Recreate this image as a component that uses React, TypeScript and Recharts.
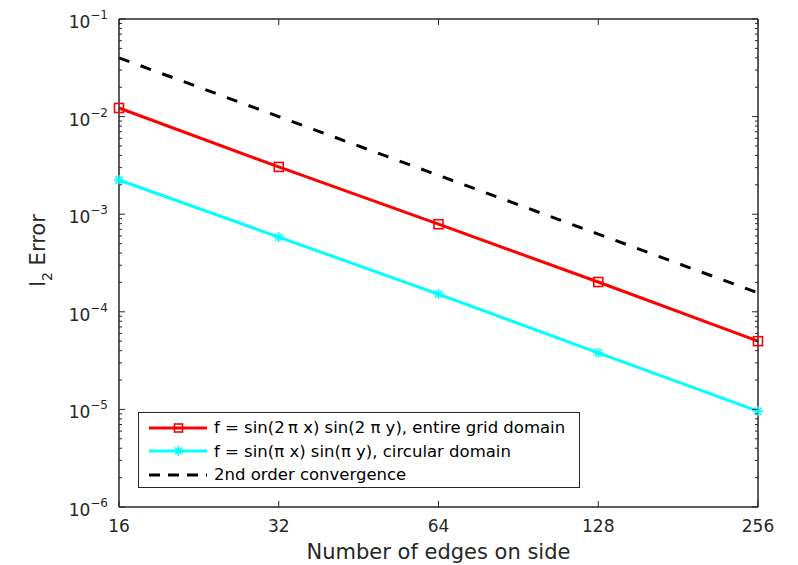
import React from 'react';
import { LineChart, Line, XAxis, YAxis, Legend, ReferenceArea } from 'recharts';

const edges = [16, 32, 64, 128, 256];
const errEntire = [0.01225, 0.00305, 0.00079, 0.000202, 0.0000500];
const errCircular = [0.00224, 0.000583, 0.000152, 0.0000380, 0.0000096];
const secondOrder = [0.04, 0.01, 0.0025, 0.000625, 0.00015625];

const xTicks = [16, 32, 64, 128, 256];
const yMajor = [1e-6, 1e-5, 1e-4, 1e-3, 1e-2, 1e-1];
const yMajorLabels = ['−6', '−5', '−4', '−3', '−2', '−1'];

const seriesNames = [
  'f = sin(2\u2009π x) sin(2 π y), entire grid domain',
  'f = sin(π x) sin(π y), circular domain',
  '2nd order convergence',
];

const yTicks: number[] = [];
yMajor.forEach((d, i) => {
  yTicks.push(d);
  if (i < yMajor.length - 1) {
    for (let k = 2; k <= 9; k++) yTicks.push(d * k);
  }
});

const data = edges.map((n, i) => ({
  n,
  entire: errEntire[i],
  circular: errCircular[i],
  second: secondOrder[i],
}));

const FONT = '"DejaVu Sans", sans-serif';
const AX = '#262626';

const isMajor = (v: number) => yMajor.some((m) => Math.abs(m - v) / m < 1e-6);

const LeftTick = (props: any) => {
  const { x, y, payload } = props;
  const major = isMajor(payload.value);
  const idx = yMajor.findIndex((m) => Math.abs(m - payload.value) / m < 1e-6);
  return (
    <g>
      <line x1={x} x2={x + (major ? 6 : 3)} y1={y} y2={y} stroke={AX} strokeWidth={1} />
      {major && (
        <text x={x - 11} y={y + 9} textAnchor="end" fill={AX} fontFamily={FONT} fontSize={17}>
          <tspan>10</tspan>
          <tspan dy={-9} fontSize={12}>{yMajorLabels[idx]}</tspan>
        </text>
      )}
    </g>
  );
};

const RightTick = (props: any) => {
  const { x, y, payload } = props;
  const major = isMajor(payload.value);
  return <line x1={x} x2={x - (major ? 6 : 3)} y1={y} y2={y} stroke={AX} strokeWidth={1} />;
};

const BottomTick = (props: any) => {
  const { x, y, payload } = props;
  return (
    <g>
      <line x1={x} x2={x} y1={y} y2={y - 6} stroke={AX} strokeWidth={1} />
      <text x={x} y={y + 25} textAnchor="middle" fill={AX} fontFamily={FONT} fontSize={17}>
        {payload.value}
      </text>
    </g>
  );
};

const TopTick = (props: any) => {
  const { x, y } = props;
  return <line x1={x} x2={x} y1={y} y2={y + 6} stroke={AX} strokeWidth={1} />;
};

const SquareDot = (props: any) => {
  const { cx, cy } = props;
  if (cx == null || cy == null) return null;
  return <rect x={cx - 4.5} y={cy - 4.5} width={9} height={9} fill="none" stroke="#ff0000" strokeWidth={1.6} />;
};

const StarDot = (props: any) => {
  const { cx, cy } = props;
  if (cx == null || cy == null) return null;
  const r = 5;
  const d = r * 0.72;
  return (
    <g stroke="#00ffff" strokeWidth={1.6}>
      <line x1={cx - r} x2={cx + r} y1={cy} y2={cy} />
      <line x1={cx} x2={cx} y1={cy - r} y2={cy + r} />
      <line x1={cx - d} x2={cx + d} y1={cy - d} y2={cy + d} />
      <line x1={cx - d} x2={cx + d} y1={cy + d} y2={cy - d} />
    </g>
  );
};

const LegendContent = () => {
  const rows = [
    { color: '#ff0000', dash: undefined as string | undefined, marker: 'square' },
    { color: '#00ffff', dash: undefined, marker: 'star' },
    { color: '#000000', dash: '11 8', marker: 'none' },
  ];
  return (
    <div
      style={{
        border: `1px solid ${AX}`,
        background: '#fff',
        width: 440,
        height: 71,
        boxSizing: 'content-box',
        paddingTop: 3,
        fontFamily: FONT,
        fontSize: 16.5,
        color: '#000',
      }}
    >
      {rows.map((r, i) => (
        <div key={i} style={{ display: 'flex', alignItems: 'center', height: 23.5 }}>
          <svg width={58} height={14} style={{ marginLeft: 10, marginRight: 7, flex: 'none' }}>
            <line x1={0} x2={58} y1={7} y2={7} stroke={r.color} strokeWidth={3} strokeDasharray={r.dash} />
            {r.marker === 'square' && (
              <rect x={25.5} y={3} width={8} height={8} fill="none" stroke={r.color} strokeWidth={1.6} />
            )}
            {r.marker === 'star' && (
              <g stroke={r.color} strokeWidth={1.6}>
                <line x1={24.5} x2={34.5} y1={7} y2={7} />
                <line x1={29.5} x2={29.5} y1={2} y2={12} />
                <line x1={26} x2={33} y1={3.5} y2={10.5} />
                <line x1={26} x2={33} y1={10.5} y2={3.5} />
              </g>
            )}
          </svg>
          <span style={{ whiteSpace: 'nowrap' }}>{seriesNames[i]}</span>
        </div>
      ))}
    </div>
  );
};

export default function App() {
  return (
    <div style={{ position: 'absolute', left: 0, top: 0, width: 798, height: 565, background: '#fff' }}>
      <LineChart width={798} height={565} data={data} margin={{ top: 18, right: 0, bottom: 0, left: 0 }}>
        <XAxis
          xAxisId="b"
          dataKey="n"
          type="number"
          scale="log"
          domain={[16, 256]}
          ticks={xTicks}
          interval={0}
          height={58}
          tickSize={0}
          tickMargin={0}
          tick={<BottomTick />}
          axisLine={{ stroke: AX, strokeWidth: 1 }}
          tickLine={false}
          label={{
            value: 'Number of edges on side',
            position: 'insideBottom',
            offset: 6,
            fill: AX,
            fontFamily: FONT,
            fontSize: 21,
          }}
        />
        <XAxis
          xAxisId="t"
          orientation="top"
          dataKey="n"
          type="number"
          scale="log"
          domain={[16, 256]}
          ticks={xTicks}
          interval={0}
          height={1}
          tickSize={0}
          tickMargin={0}
          tick={<TopTick />}
          axisLine={{ stroke: AX, strokeWidth: 1 }}
          tickLine={false}
        />
        <YAxis
          yAxisId="l"
          type="number"
          scale="log"
          domain={[1e-6, 1e-1]}
          ticks={yTicks}
          interval={0}
          width={119}
          tickSize={0}
          tickMargin={0}
          tick={<LeftTick />}
          axisLine={{ stroke: AX, strokeWidth: 1 }}
          tickLine={false}
          label={
            <text x={46} y={264} transform="rotate(-90 46 264)" textAnchor="middle" fill={AX} fontFamily={FONT} fontSize={21}>
              <tspan>l</tspan>
              <tspan dy={7} fontSize={14}>2</tspan>
              <tspan dy={-7}> Error</tspan>
            </text>
          }
        />
        <YAxis
          yAxisId="r"
          orientation="right"
          type="number"
          scale="log"
          domain={[1e-6, 1e-1]}
          ticks={yTicks}
          interval={0}
          width={40}
          tickSize={0}
          tickMargin={0}
          tick={<RightTick />}
          axisLine={{ stroke: AX, strokeWidth: 1 }}
          tickLine={false}
        />
        <ReferenceArea
          xAxisId="b"
          yAxisId="l"
          x1={16}
          x2={256}
          y1={1e-6}
          y2={1e-1}
          fill="none"
          fillOpacity={0}
          stroke={AX}
          strokeWidth={1}
          ifOverflow="visible"
        />
        <Legend
          layout="horizontal"
          align="center"
          verticalAlign="middle"
          content={<LegendContent />}
          wrapperStyle={{ left: 138, top: 412, width: 442 }}
        />
        <Line
          xAxisId="t"
          yAxisId="r"
          dataKey="second"
          name={seriesNames[2]}
          stroke="#000"
          strokeWidth={3}
          strokeDasharray="11 12"
          dot={false}
          isAnimationActive={false}
        />
        <Line
          xAxisId="b"
          yAxisId="l"
          dataKey="entire"
          name={seriesNames[0]}
          stroke="#ff0000"
          strokeWidth={3}
          dot={<SquareDot />}
          isAnimationActive={false}
        />
        <Line
          xAxisId="b"
          yAxisId="l"
          dataKey="circular"
          name={seriesNames[1]}
          stroke="#00ffff"
          strokeWidth={3}
          dot={<StarDot />}
          isAnimationActive={false}
        />
      </LineChart>
    </div>
  );
}
